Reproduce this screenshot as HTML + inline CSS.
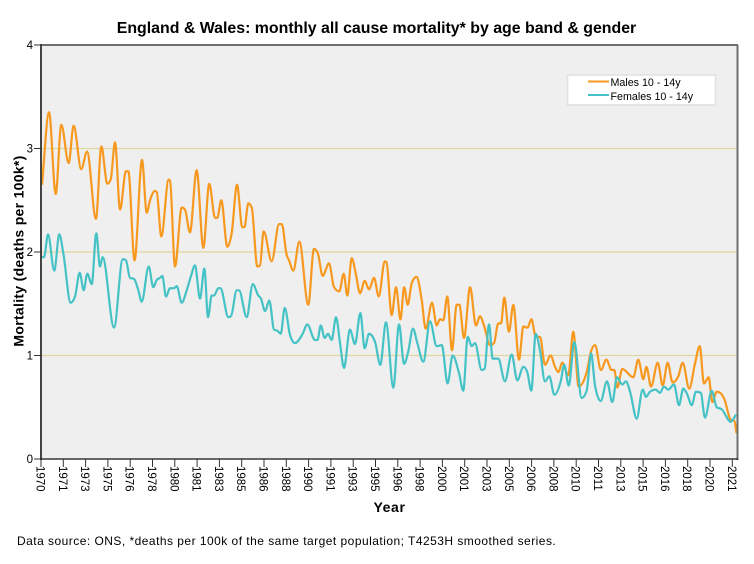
<!DOCTYPE html>
<html lang="en">
<head>
<meta charset="utf-8">
<title>England &amp; Wales: monthly all cause mortality</title>
<style>
html,body{margin:0;padding:0;background:#fff;}
body{width:754px;height:564px;overflow:hidden;}
svg{display:block;font-family:"Liberation Sans",Arial,sans-serif;}
</style>
</head>
<body>
<svg id="chart" width="754" height="564" viewBox="0 0 754 564" xmlns="http://www.w3.org/2000/svg">
  <rect x="0" y="0" width="754" height="564" fill="#ffffff"/>
  <rect x="41" y="45" width="696" height="414" fill="#efefef"/>
  <g id="grid"></g>
  <g id="series"></g>
  <line x1="40" y1="45" x2="738" y2="45" stroke="#6f6f6f" stroke-width="2"/>
  <line x1="737.5" y1="45" x2="737.5" y2="460" stroke="#6f6f6f" stroke-width="2"/>
  <line x1="41" y1="44" x2="41" y2="460" stroke="#444444" stroke-width="2"/>
  <line x1="40" y1="459" x2="738" y2="459" stroke="#111111" stroke-width="1.2"/>
  <g id="y-ticks"></g>
  <g id="x-ticks"></g>
  <text x="376.5" y="33" text-anchor="middle" font-size="15.9" font-weight="bold" fill="#000">England &amp; Wales: monthly all cause mortality* by age band &amp; gender</text>
  <text transform="translate(23.5,251) rotate(-90)" text-anchor="middle" font-size="14" font-weight="bold" letter-spacing="0.3" fill="#000">Mortality (deaths per 100k*)</text>
  <text x="389.5" y="512" text-anchor="middle" font-size="14" font-weight="bold" letter-spacing="0.6" fill="#000">Year</text>
  <text x="17" y="545" font-size="12" letter-spacing="0.47" fill="#000">Data source: ONS, *deaths per 100k of the same target population; T4253H smoothed series.</text>
  <g>
    <rect x="567.5" y="75" width="148" height="30" fill="#ffffff" stroke="#e2e2e2" stroke-width="1.6"/>
    <line x1="588" y1="81.5" x2="609" y2="81.5" stroke="#f7981f" stroke-width="2"/>
    <text x="610.5" y="86" font-size="10.7" fill="#000">Males 10 - 14y</text>
    <line x1="588" y1="95" x2="609" y2="95" stroke="#45c2c5" stroke-width="2"/>
    <text x="610.5" y="100" font-size="10.7" fill="#000">Females 10 - 14y</text>
  </g>
</svg>
<script>
var xTickLabels = ["1970","1971","1973","1975","1976","1978","1980","1981","1983","1985","1986","1988","1990","1991","1993","1995","1996","1998","2000","2001","2003","2005","2006","2008","2010","2011","2013","2015","2016","2018","2020","2021"];
var yTickValues = [0,1,2,3,4];
var gridValues = [1,2,3];

var maleMonths = [0.9,7.2,13.2,18.2,24.8,29.3,36.1,41.3,49.3,54.1,59.5,62.5,66.4,70.9,76.2,78.3,83.9,90.6,94.8,97.8,102.2,103.8,107.9,114.5,115.7,120.2,126.2,129.1,133.6,139.6,145.6,150.9,156.1,158.1,161.7,167.1,171,175.8,180.5,182.5,185.9,189,194,196.4,199.7,206.9,213.5,215.9,220.4,222.4,226.3,231.7,239.7,244.8,248.2,252.6,258.3,262.8,267.5,271.5,274.7,278.7,282.5,286.1,290.3,294.2,298.7,302.9,308.3,309.9,314.5,318.4,322.4,325.7,328.9,332.5,336.8,341.4,345,350.7,354.9,357.8,360.8,364.4,368.6,372.8,375.2,379.4,384.8,390.1,393.7,397.3,402.7,406.3,410.1,412.6,415.5,419.7,423.6,428.7,432.6,436.3,439.9,443.7,447.5,452,457.1,461,464,467.5,472.9,477.4,482.2,489.4,493.3,496.9,502.2,507,511.8,514.2,516.9,521.3,531.2,535.7,540.2,543,547.1,553.1,557.6,562,566.5,571.6,575.5,581.4,586.5,590.8,594.6,598.8,602.1,606,609,612.8,618.6,621.8,623.8];
var maleValues = [2.65,3.35,2.56,3.23,2.86,3.22,2.80,2.97,2.32,3.02,2.66,2.70,3.06,2.41,2.78,2.78,1.92,2.89,2.38,2.50,2.59,2.58,2.15,2.70,2.69,1.86,2.43,2.41,2.19,2.79,2.04,2.66,2.33,2.33,2.50,2.05,2.18,2.65,2.24,2.24,2.47,2.43,1.86,1.87,2.20,1.91,2.27,2.27,1.97,1.92,1.82,2.10,1.49,2.03,1.99,1.77,1.89,1.66,1.62,1.79,1.58,1.94,1.78,1.60,1.72,1.64,1.75,1.57,1.91,1.90,1.39,1.66,1.35,1.66,1.49,1.70,1.76,1.54,1.26,1.51,1.29,1.35,1.34,1.57,1.05,1.49,1.49,1.17,1.66,1.29,1.38,1.29,1.10,1.12,1.31,1.31,1.56,1.23,1.49,0.96,1.28,1.27,1.35,1.18,1.18,0.91,1.00,0.89,0.84,0.93,0.81,1.23,0.70,0.84,1.04,1.10,0.86,0.96,0.86,0.86,0.69,0.87,0.79,0.96,0.77,0.89,0.70,0.93,0.71,0.93,0.74,0.80,0.93,0.68,0.92,1.09,0.73,0.79,0.55,0.65,0.64,0.58,0.38,0.37,0.25];

var femaleMonths = [0.6,2.7,6.3,11.9,16.4,20,26.6,30.5,34.7,38.3,41.5,45.5,49.6,52.9,55.3,65.5,73.3,76.2,79.8,83.4,87.3,90.3,96.6,100.7,103.8,106.7,108.8,112.1,115.7,119.3,121.7,126.2,130.7,134.3,138.1,142.6,146.5,149.8,153.1,155.2,159,161,168,170.4,175.5,177.6,184.5,189.9,194.9,197.3,200.9,204.8,209,211.9,215,218.6,223.3,227.8,234.7,238.8,245.7,248,250.9,254.4,257.4,260.7,264.6,268.2,271.7,277.1,281.6,286.4,290.3,294.2,299.6,304.3,309.4,316,321.1,325.6,329.4,333.6,337.5,342.9,348.9,354.9,359.4,364.7,369.2,374.9,378.7,382.7,386.3,389.2,395.2,397.8,401.8,405.1,410.1,416.1,422.1,427.2,432.6,436.1,439.7,443.7,447.5,452,455.9,460.4,466.1,469.3,473.3,478.3,484.9,489.4,493.3,496.9,502,507.6,512.4,516.6,521.3,524.7,528.3,534.3,539.6,542.6,546.2,551.3,555.2,558.7,562.6,567.7,572.2,576,579.4,583.6,587.4,591.7,595.5,601.5,606,610.5,618.6,620.6,623.3];
var femaleValues = [1.95,1.95,2.17,1.82,2.17,1.99,1.51,1.57,1.80,1.63,1.79,1.69,2.18,1.86,1.95,1.27,1.93,1.92,1.75,1.74,1.63,1.52,1.86,1.66,1.73,1.75,1.77,1.57,1.65,1.65,1.67,1.51,1.63,1.76,1.87,1.55,1.84,1.37,1.58,1.58,1.65,1.65,1.37,1.38,1.63,1.63,1.37,1.69,1.58,1.55,1.43,1.53,1.25,1.24,1.21,1.46,1.20,1.12,1.21,1.30,1.15,1.15,1.29,1.17,1.21,1.15,1.37,1.12,0.88,1.25,1.11,1.41,1.07,1.21,1.13,0.91,1.32,0.69,1.30,0.92,1.04,1.26,1.12,0.94,1.33,1.09,1.10,0.73,1.00,0.83,0.66,1.18,1.09,1.12,0.86,0.87,1.30,0.97,0.97,0.75,1.01,0.76,0.89,0.84,0.66,1.21,1.05,0.75,0.80,0.62,0.75,0.91,0.71,1.13,0.59,0.66,1.02,0.71,0.56,0.75,0.55,0.79,0.72,0.75,0.65,0.39,0.67,0.60,0.65,0.67,0.64,0.70,0.67,0.72,0.52,0.68,0.63,0.52,0.65,0.64,0.40,0.66,0.50,0.48,0.36,0.38,0.43];

var monthsPerTick = 20;
var NS = 'http://www.w3.org/2000/svg';

function xScale(month) {
  return 41 + month * (22.3 / monthsPerTick);
}
function yScale(value) {
  return 459 - value * 103.5;
}
function make(tag, parent, attrs) {
  var el = document.createElementNS(NS, tag);
  for (var k in attrs) {
    el.setAttribute(k, attrs[k]);
  }
  parent.appendChild(el);
  return el;
}
// Monotone cubic path through the knots, so peaks stay at the knots and round off smoothly.
function curvePath(px, py) {
  var n = px.length, m = [], s = [], i;
  for (i = 0; i < n - 1; i++) {
    s[i] = (py[i + 1] - py[i]) / (px[i + 1] - px[i]);
  }
  m[0] = s[0];
  m[n - 1] = s[n - 2];
  for (i = 1; i < n - 1; i++) {
    if (s[i - 1] * s[i] <= 0) {
      m[i] = 0;
    } else {
      var h0 = px[i] - px[i - 1], h1 = px[i + 1] - px[i];
      var p = (s[i - 1] * h1 + s[i] * h0) / (h0 + h1);
      m[i] = (s[i - 1] > 0 ? 1 : -1) * Math.min(Math.abs(s[i - 1]), Math.abs(s[i]), 0.5 * Math.abs(p)) * 2;
    }
  }
  var d = 'M' + px[0].toFixed(2) + ' ' + py[0].toFixed(2);
  for (i = 0; i < n - 1; i++) {
    var h = (px[i + 1] - px[i]) / 3;
    d += 'C' + (px[i] + h).toFixed(2) + ' ' + (py[i] + m[i] * h).toFixed(2) + ' ' +
      (px[i + 1] - h).toFixed(2) + ' ' + (py[i + 1] - m[i + 1] * h).toFixed(2) + ' ' +
      px[i + 1].toFixed(2) + ' ' + py[i + 1].toFixed(2);
  }
  return d;
}

var gridG = document.getElementById('grid');
gridValues.forEach(function (v) {
  var line = make('line', gridG, { x1: 41, x2: 737, y1: yScale(v), y2: yScale(v), stroke: '#ddd6a0', 'stroke-width': 1.2 });
  
  
});

var yG = document.getElementById('y-ticks');
yTickValues.forEach(function (v) {
  var y = yScale(v);
  var t = make('line', yG, { x1: 34, x2: 41, y1: y, y2: y, stroke: '#333', 'stroke-width': 1 });
  
  
  var lab = make('text', yG, { x: 33, y: y + 4, 'text-anchor': 'end', 'font-size': 11.5, fill: '#000' });
  lab.textContent = String(v);
  
  
});

var xG = document.getElementById('x-ticks');
xTickLabels.forEach(function (label, i) {
  var x = xScale(i * monthsPerTick);
  var t = make('line', xG, { x1: x, x2: x, y1: 459, y2: 467, stroke: '#333', 'stroke-width': 1 });
  
  
  var lab = make('text', xG, { transform: 'translate(' + (x - 4.5) + ',466) rotate(90)', 'font-size': 11.5, fill: '#000' });
  lab.textContent = label;
  
  
});

var seriesG = document.getElementById('series');
var malePath = make('path', seriesG, {
  d: curvePath(maleMonths.map(xScale), maleValues.map(yScale)),
  fill: 'none', stroke: '#f7981f', 'stroke-width': 2.2, 'stroke-linejoin': 'round'
});


var femalePath = make('path', seriesG, {
  d: curvePath(femaleMonths.map(xScale), femaleValues.map(yScale)),
  fill: 'none', stroke: '#45c2c5', 'stroke-width': 2.2, 'stroke-linejoin': 'round'
});


</script>
</body>
</html>
